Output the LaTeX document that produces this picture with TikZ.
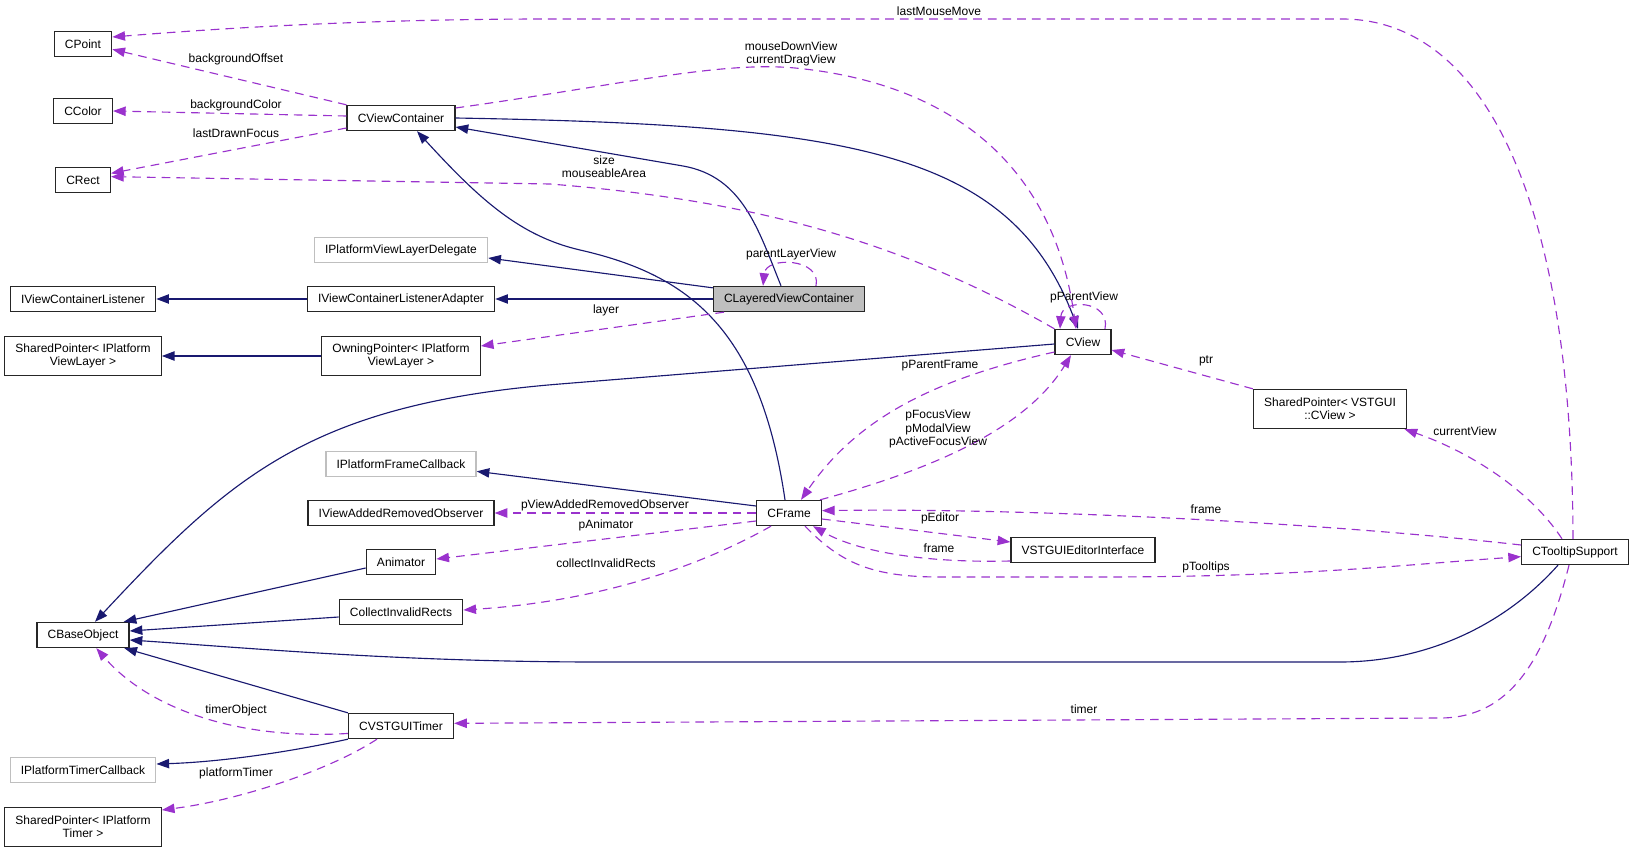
\documentclass[tikz,border=0pt]{standalone}
\usepackage{fontspec}
\setmainfont{Liberation Sans}
\usepackage{xcolor}
\usepackage{tikz}
\usetikzlibrary{arrows.meta}

\definecolor{edgeblue}{HTML}{191970}
\definecolor{edgepurple}{HTML}{9A32CD}
\definecolor{boxgray}{HTML}{BFBFBF}

\begin{document}
\begin{tikzpicture}[
  x=0.75pt, y=0.75pt,
  font=\fontsize{9}{10}\selectfont,
  cls/.style={draw=black!85, line width=1pt, rectangle, inner xsep=8pt, inner ysep=2pt, minimum height=18.75pt, align=center},
  twoline/.style={minimum height=29.25pt},
  extcls/.style={cls, draw=boxgray},
  curcls/.style={cls, fill=boxgray},
  inh/.style={draw=edgeblue, line width=0.85pt, -{Triangle[length=9.5pt,width=7pt]}},
  member/.style={draw=edgepurple, line width=0.85pt, dash pattern=on 6.5pt off 4.5pt, -{Triangle[length=9.5pt,width=7pt]}},
  lbl/.style={inner sep=0pt, align=center}
]
\useasboundingbox (0,0) rectangle (1633,-852);

\node[cls] (cpoint) at (83,-44) {CPoint};
\node[cls] (ccolor) at (83,-111) {CColor};
\node[cls] (crect) at (83,-180) {CRect};
\node[cls] (cvc) at (401,-118) {CViewContainer};
\node[extcls] (ipvld) at (401,-250) {IPlatformViewLayerDelegate};
\node[cls] (ivcl) at (83,-299) {IViewContainerListener};
\node[cls] (ivcla) at (401,-299) {IViewContainerListenerAdapter};
\node[curcls] (clvc) at (789,-299) {CLayeredViewContainer};
\node[cls, twoline] (spvl) at (83,-356) {SharedPointer< IPlatform\\ViewLayer >};
\node[cls, twoline] (owning) at (401,-356) {OwningPointer< IPlatform\\ViewLayer >};
\node[cls] (cview) at (1083,-342) {CView};
\node[cls, twoline] (spv) at (1330,-409) {SharedPointer< VSTGUI\\::CView >};
\node[extcls] (ipfc) at (401,-464) {IPlatformFrameCallback};
\node[cls] (ivaro) at (401,-513) {IViewAddedRemovedObserver};
\node[cls] (cframe) at (789,-513) {CFrame};
\node[cls] (vei) at (1083,-550) {VSTGUIEditorInterface};
\node[cls] (cts) at (1575,-552) {CTooltipSupport};
\node[cls] (anim) at (401,-562) {Animator};
\node[cls] (cir) at (401,-612) {CollectInvalidRects};
\node[cls] (cbase) at (83,-635) {CBaseObject};
\node[cls] (cvt) at (401,-726) {CVSTGUITimer};
\node[extcls] (iptc) at (83,-770) {IPlatformTimerCallback};
\node[cls, twoline] (spt) at (83,-827) {SharedPointer< IPlatform\\Timer >};

\draw[inh] ([xshift=-6pt]clvc.north) to[out=112,in=-10] (683,-166) -- ([yshift=-6.75pt]cvc.east);
\draw[inh] ([yshift=-1.5pt]clvc.north west) -- ([yshift=-6pt]ipvld.east);
\draw[inh] (clvc) -- (ivcla);
\draw[inh] (ivcla) -- (ivcl);
\draw[inh] (owning) -- (spvl);
\draw[inh] (cvc.east) .. controls (850,-125) and (1010,-150) .. ([xshift=-3.75pt]cview.north);
\draw[inh] ([yshift=-1.5pt]cview.west) -- (560,-384) .. controls (311,-404) and (231,-476) .. ([xshift=9pt]cbase.north);
\draw[inh] ([xshift=-3pt]cframe.north) .. controls (760,-330) and (690,-275) .. (580,-250) .. controls (520,-236) and (480,-200) .. ([xshift=12pt]cvc.south);
\draw[inh] ([yshift=5.25pt]cframe.west) -- ([yshift=-5.5pt]ipfc.east);
\draw[inh] ([yshift=-4.5pt]anim.west) -- ([xshift=-4.5pt]cbase.north east);
\draw[inh] ([yshift=-3.75pt]cir.west) -- ([yshift=3pt]cbase.east);
\draw[inh] ([xshift=-12.75pt]cts.south) .. controls (1500,-630) and (1420,-662) .. (1340,-662) -- (600,-662) .. controls (400,-662) and (250,-648) .. ([yshift=-3.75pt]cbase.east);
\draw[inh] (cvt.north west) -- ([xshift=-4pt]cbase.south east);
\draw[inh] (cvt.south west) .. controls (290,-752) and (220,-762) .. ([yshift=4.5pt]iptc.east);

\draw[member] ([xshift=-1.5pt]cts.north) .. controls (1572,-190) and (1480,-19) .. (1342,-19) -- (550,-19) .. controls (350,-19) and (200,-30) .. ([yshift=5.25pt]cpoint.east);
\draw[member] (cvc.north west) -- ([yshift=-4pt]cpoint.east);
\draw[member] ([yshift=1.5pt]cvc.west) -- (ccolor.east);
\draw[member] ([yshift=-7.5pt]cvc.west) -- ([yshift=5pt]crect.east);
\draw[member] (cview.north west) .. controls (900,-240) and (750,-200) .. (550,-184) -- ([yshift=2.5pt]crect.east);
\draw[member] ([yshift=7.5pt]cvc.east) .. controls (620,-85) and (720,-61) .. (795,-68) .. controls (920,-80) and (1050,-140) .. ([xshift=-5.25pt]cview.north);
\draw[member] ([xshift=20.25pt]clvc.north) .. controls (822,-258) and (766,-256) .. ([xshift=-19.5pt]clvc.north);
\draw[member] ([xshift=16.5pt]cview.north) .. controls (1111,-300) and (1062,-298) .. ([xshift=-17.25pt]cview.north);
\draw[member] ([xshift=-48.75pt]clvc.south) -- ([yshift=7.5pt]owning.east);
\draw[member] ([yshift=-7.5pt]cview.west) .. controls (930,-380) and (856,-420) .. ([xshift=9pt]cframe.north);
\draw[member] ([xshift=23.25pt]cframe.north) .. controls (930,-470) and (1025,-430) .. ([xshift=-9pt]cview.south);
\draw[member] (cframe) -- (ivaro);
\draw[member] ([yshift=-6pt]cframe.west) -- ([yshift=2.25pt]anim.east);
\draw[member] ([xshift=-13.5pt]cframe.south) .. controls (720,-555) and (620,-600) .. ([yshift=1.5pt]cir.east);
\draw[member] ([yshift=-4.5pt]cframe.east) -- ([yshift=6pt]vei.west);
\draw[member] ([yshift=-8.25pt]vei.west) .. controls (930,-563) and (860,-553) .. ([xshift=18pt]cframe.south);
\draw[member] ([xshift=12pt]cframe.south) .. controls (840,-562) and (870,-577) .. (940,-577) -- (1100,-577) .. controls (1300,-577) and (1400,-565) .. ([yshift=-3.5pt]cts.west);
\draw[member] ([yshift=5.25pt]cts.west) .. controls (1300,-520) and (1000,-508) .. ([yshift=1.75pt]cframe.east);
\draw[member] (spv.north west) -- ([yshift=-6pt]cview.east);
\draw[member] ([xshift=-9.75pt]cts.north) .. controls (1530,-490) and (1470,-452) .. ([xshift=-2pt]spv.south east);
\draw[member] ([xshift=-4.5pt]cts.south) .. controls (1545,-660) and (1510,-718) .. (1440,-718) -- ([yshift=2pt]cvt.east);
\draw[member] ([yshift=-5.6pt]cvt.west) .. controls (240,-740) and (150,-710) .. ([xshift=10pt]cbase.south);
\draw[member] ([xshift=-18pt]cvt.south) .. controls (330,-770) and (240,-800) .. ([yshift=12.75pt]spt.east);

\node[lbl] (lMouseMove) at (939,-11) {lastMouseMove};
\node[lbl] (lBgOffset) at (236,-59) {backgroundOffset};
\node[lbl] (lBgColor) at (236,-105) {backgroundColor};
\node[lbl] (lDrawnFocus) at (236,-133) {lastDrawnFocus};
\node[lbl] (lMouseDown) at (791,-54) {mouseDownView\\currentDragView};
\node[lbl] (lSize) at (604,-167) {size\\mouseableArea};
\node[lbl] (lParentLayer) at (791,-254) {parentLayerView};
\node[lbl] (lParentView) at (1084,-297) {pParentView};
\node[lbl] (lLayer) at (606,-310) {layer};
\node[lbl] (lParentFrame) at (940,-366) {pParentFrame};
\node[lbl] (lPtr) at (1206,-361) {ptr};
\node[lbl] (lFocus) at (938,-429) {pFocusView\\pModalView\\pActiveFocusView};
\node[lbl] (lCurView) at (1465,-431) {currentView};
\node[lbl] (lObserver) at (605,-505) {pViewAddedRemovedObserver};
\node[lbl] (lFrameTip) at (1206,-509) {frame};
\node[lbl] (lEditor) at (940,-518) {pEditor};
\node[lbl] (lAnimator) at (606,-525) {pAnimator};
\node[lbl] (lFrameEd) at (939,-548) {frame};
\node[lbl] (lInvalid) at (606,-563) {collectInvalidRects};
\node[lbl] (lTooltips) at (1206,-567) {pTooltips};
\node[lbl] (lTimer) at (1084,-709) {timer};
\node[lbl] (lTimerObj) at (236,-710) {timerObject};
\node[lbl] (lPfTimer) at (236,-773) {platformTimer};

\end{tikzpicture}
\end{document}
